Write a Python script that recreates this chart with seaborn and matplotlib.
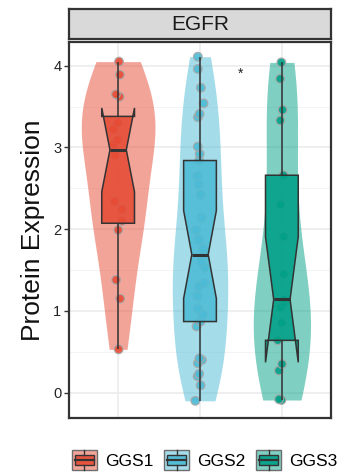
import numpy as np
import pandas as pd
import matplotlib
matplotlib.use("Agg")
import matplotlib.pyplot as plt
import seaborn as sns
from matplotlib.legend_handler import HandlerBase
from matplotlib.patches import Rectangle, Patch
from matplotlib.lines import Line2D
from matplotlib.colors import to_rgba

# ---------------- data ----------------
groups = ["GGS1", "GGS2", "GGS3"]
ggs1 = [0.53, 1.15, 1.38, 1.99, 2.10, 2.24, 2.34, 2.90, 3.04, 3.09, 3.22, 3.30,
        3.62, 3.65, 3.89, 4.05]
ggs2 = [-0.10, 0.09, 0.20, 0.23, 0.36, 0.40, 0.42, 0.81, 0.87,
        0.95, 1.03, 1.18, 1.30, 1.34, 1.53, 1.60, 1.69,
        1.76, 1.87, 1.99, 2.14, 2.42, 2.55, 2.65, 2.84,
        2.92, 3.01, 3.37, 3.41, 3.54, 3.73, 3.96, 4.11]
ggs3 = [-0.09, -0.08, 0.27, 0.35, 0.64, 0.85, 1.04, 1.10, 1.14, 1.45, 1.91,
        2.30, 2.66, 3.33, 3.46, 3.84, 4.04]
colors = ["#E64B35", "#4DBBD5", "#00A087"]
panel_title = "EGFR"
y_label = "Protein Expression"
signif_label = "*"
signif_x = 1.5
signif_y = 3.9
yticks = [0, 1, 2, 3, 4]

df = pd.DataFrame({
    "group": ["GGS1"] * len(ggs1) + ["GGS2"] * len(ggs2) + ["GGS3"] * len(ggs3),
    "value": ggs1 + ggs2 + ggs3,
})

plt.rcParams["font.family"] = ["Liberation Sans", "DejaVu Sans"]

W, H = 354, 474
fig = plt.figure(figsize=(W / 100, H / 100), dpi=100)
ax = fig.add_axes([69 / W, 1 - 418 / H, 262 / W, 376 / H])

sns.violinplot(data=df, x="group", y="value", hue="group", palette=colors,
               order=groups, hue_order=groups, cut=0, density_norm="area",
               common_norm=True, width=0.9, inner=None, linewidth=0,
               saturation=1, alpha=0.5, bw_adjust=0.9, legend=False, ax=ax)

np.random.seed(3)
sns.stripplot(data=df, x="group", y="value", hue="group", palette=colors,
              order=groups, hue_order=groups, jitter=0.06, size=6.2,
              edgecolor="#a8a8a8", linewidth=0.9, alpha=0.9, legend=False,
              ax=ax, zorder=3)

sns.boxplot(data=df, x="group", y="value", hue="group", palette=colors,
            order=groups, hue_order=groups, width=0.4, notch=True,
            saturation=1, linecolor="#333333", linewidth=1.1, showcaps=False,
            fliersize=0, legend=False, ax=ax,
            boxprops={"zorder": 4}, whiskerprops={"zorder": 4},
            medianprops={"zorder": 5, "linewidth": 2.2})
for p in ax.patches:
    fc = p.get_facecolor()
    p.set_facecolor(to_rgba(fc[:3], 0.88))

ax.text(signif_x, signif_y, signif_label, ha="center", va="center",
        fontsize=10, color="#222222", zorder=6)

ax.set_xlim(-0.6, 2.6)
ax.set_ylim(-0.31, 4.29)
ax.set_yticks(yticks)
ax.set_yticks(np.arange(0.5, 4.5, 1.0), minor=True)
ax.set_xticks([0, 1, 2])
ax.set_xticklabels([])
ax.tick_params(axis="x", length=0)
ax.tick_params(axis="y", which="major", length=3.5, width=1, color="#333333",
               labelsize=10.5, labelcolor="#222222", pad=2)
ax.tick_params(axis="y", which="minor", length=0)
ax.grid(True, which="major", color="#EBEBEB", linewidth=1.1)
ax.grid(True, which="minor", axis="y", color="#F2F2F2", linewidth=0.6)
ax.set_axisbelow(True)
ax.set_xlabel("")
ax.set_ylabel(y_label, fontsize=19, labelpad=6, color="#111111")
for s in ax.spines.values():
    s.set_color("#333333")
    s.set_linewidth(1.6)

# strip
sax = fig.add_axes([69 / W, 1 - 39 / H, 262 / W, 30 / H])
sax.set_facecolor("#D9D9D9")
sax.set_xticks([])
sax.set_yticks([])
for s in sax.spines.values():
    s.set_color("#333333")
    s.set_linewidth(1.6)
sax.text(0.5, 0.5, panel_title, ha="center", va="center", fontsize=15,
         color="#1a1a1a", transform=sax.transAxes)


class BoxViolinHandler(HandlerBase):
    def create_artists(self, legend, orig_handle, xdescent, ydescent, width,
                       height, fontsize, trans):
        c = orig_handle.get_facecolor()[:3]
        x0, y0 = -xdescent, -ydescent
        outer = Rectangle((x0, y0), width, height, facecolor=to_rgba(c, 0.5),
                          edgecolor="#6e6e6e", linewidth=1.0, transform=trans)
        inner = Rectangle((x0 + 0.1 * width, y0 + 0.25 * height), 0.8 * width,
                          0.5 * height, facecolor=to_rgba(c, 0.9),
                          edgecolor="#333333", linewidth=1.0, transform=trans)
        med = Line2D([x0 + 0.1 * width, x0 + 0.9 * width],
                     [y0 + 0.5 * height] * 2, color="#333333", lw=1.6,
                     transform=trans)
        w1 = Line2D([x0 + 0.5 * width] * 2, [y0, y0 + 0.25 * height],
                    color="#333333", lw=1.0, transform=trans)
        w2 = Line2D([x0 + 0.5 * width] * 2, [y0 + 0.75 * height, y0 + height],
                    color="#333333", lw=1.0, transform=trans)
        return [outer, inner, med, w1, w2]


handles = [Patch(facecolor=c) for c in colors]
fig.legend(handles, groups, loc="center", bbox_to_anchor=(205 / W, 1 - 460 / H),
           ncol=3, frameon=False, fontsize=12.5, handlelength=1.42,
           handleheight=1.42, handletextpad=0.5, columnspacing=0.6,
           handler_map={Patch: BoxViolinHandler()})

fig.savefig("out.png", dpi=100)
